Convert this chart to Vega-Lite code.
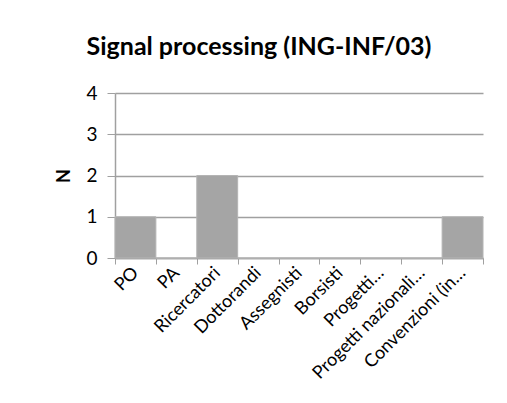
{
  "$schema": "https://vega.github.io/schema/vega-lite/v6.json",
  "autosize": {"type": "none"},
  "width": 368,
  "height": 165,
  "padding": {"left": 115, "top": 93, "right": 24, "bottom": 145},
  "background": "white",
  "title": {
    "text": "Signal processing (ING-INF/03)",
    "font": "Lato",
    "fontSize": 25,
    "fontWeight": "bold",
    "color": "#000000",
    "anchor": "middle",
    "dx": -40,
    "baseline": "alphabetic",
    "offset": 4
  },
  "data": {
    "values": [
      {"cat": "PO", "N": 1},
      {"cat": "PA", "N": 0},
      {"cat": "Ricercatori", "N": 2},
      {"cat": "Dottorandi", "N": 0},
      {"cat": "Assegnisti", "N": 0},
      {"cat": "Borsisti", "N": 0},
      {"cat": "Progetti…", "N": 0},
      {"cat": "Progetti nazionali…", "N": 0},
      {"cat": "Convenzioni (in…", "N": 1}
    ]
  },
  "mark": {"type": "bar", "color": "#a5a5a5", "stroke": "#b4b4b4", "strokeWidth": 1},
  "encoding": {
    "x": {
      "field": "cat",
      "type": "nominal",
      "sort": null,
      "scale": {"paddingInner": 0, "paddingOuter": 0},
      "axis": {
        "title": null,
        "labelAngle": -45,
        "labelAlign": "right",
        "labelBaseline": "middle",
        "labelFont": "Lato",
        "labelFontSize": 18,
        "labelColor": "#000000",
        "labelPadding": 6,
        "labelLimit": 300,
        "tickBand": "extent",
        "tickSize": 6,
        "tickColor": "#a0a0a0",
        "domainColor": "#a0a0a0",
        "domainWidth": 1.5
      }
    },
    "y": {
      "field": "N",
      "type": "quantitative",
      "scale": {"domain": [0, 4]},
      "axis": {
        "values": [0, 1, 2, 3, 4],
        "title": "N",
        "titleFont": "Lato",
        "titleFontSize": 18,
        "titleFontWeight": "bold",
        "titleColor": "#000000",
        "titlePadding": 12,
        "labelFont": "Lato",
        "labelFontSize": 19,
        "labelColor": "#000000",
        "labelPadding": 10,
        "tickSize": 8,
        "tickColor": "#a0a0a0",
        "domainColor": "#a0a0a0",
        "domainWidth": 1.5,
        "grid": true,
        "gridColor": "#a0a0a0",
        "gridWidth": 1.5
      }
    }
  },
  "config": {"view": {"stroke": null}}
}
